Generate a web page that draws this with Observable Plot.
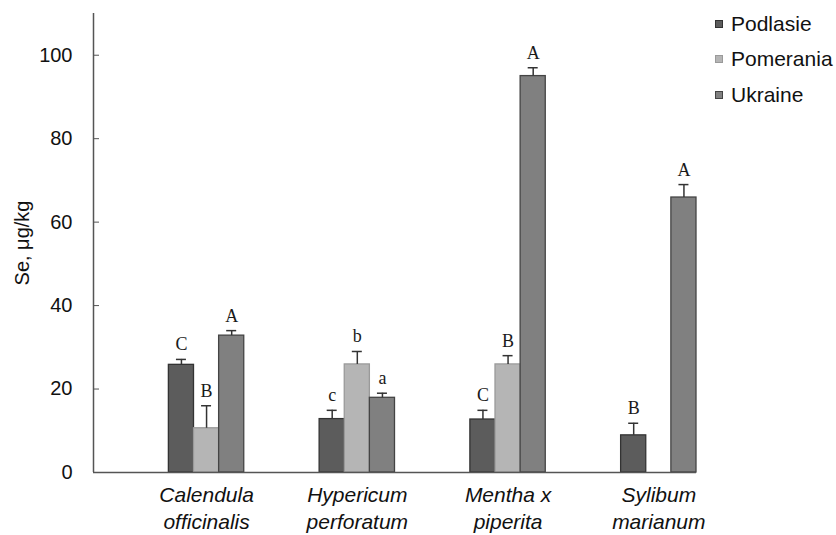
<!DOCTYPE html>
<html>
<head>
<meta charset="utf-8">
<script src="https://cdn.jsdelivr.net/npm/d3@7"></script>
<script src="https://cdn.jsdelivr.net/npm/@observablehq/plot@0.6"></script>
<style>
  html, body { margin: 0; padding: 0; background: #fff; }
  #wrap { position: relative; width: 836px; height: 535px; font-family: "Liberation Sans", Arial, sans-serif; }
  #legend { position: absolute; left: 715px; top: 6px; }
  .row { display: flex; align-items: center; height: 35.5px; font-size: 21px; color: #111; }
  .sw { width: 6px; height: 6px; border: 1px solid #333; margin-right: 8px; }
</style>
</head>
<body>
<div id="wrap"><div id="legend"></div></div>
<script>
const groups = ["Calendula\nofficinalis", "Hypericum\nperforatum", "Mentha x\npiperita", "Sylibum\nmarianum"];
const seriesNames = ["Podlasie", "Pomerania", "Ukraine"];
const seriesColors = ["#5c5c5c", "#b5b5b5", "#808080"];
const seriesStrokes = ["#333333", "#9a9a9a", "#444444"];

const podlasie = [25.8, 12.8, 12.7, 8.9];
const pomerania = [10.6, 25.9, 25.9, null];
const ukraine = [32.8, 17.9, 95, 65.9];

const podlasieErr = [1.3, 2.1, 2.2, 2.9];
const pomeraniaErr = [5.4, 3.1, 2.1, null];
const ukraineErr = [1.2, 1.1, 2, 3.1];

const podlasieLetters = ["C", "c", "C", "B"];
const pomeraniaLetters = ["B", "b", "B", null];
const ukraineLetters = ["A", "a", "A", "A"];

const yTicks = [0, 20, 40, 60, 80, 100];
const yLabel = "Se, μg/kg";

const values = [podlasie, pomerania, ukraine];
const errs = [podlasieErr, pomeraniaErr, ukraineErr];
const letters = [podlasieLetters, pomeraniaLetters, ukraineLetters];

const nS = seriesNames.length;
const slotsPerGroup = nS * 2;
const lead = nS;

const data = [];
groups.forEach((g, gi) => {
  seriesNames.forEach((s, si) => {
    const v = values[si][gi];
    if (v == null) return;
    data.push({
      group: g, series: s,
      slot: gi * slotsPerGroup + lead + si,
      value: v, err: errs[si][gi], letter: letters[si][gi],
      stroke: seriesStrokes[si]
    });
  });
});
const groupCenters = groups.map((g, gi) => gi * slotsPerGroup + lead + nS / 2);

const chart = Plot.plot({
  width: 836,
  height: 535,
  marginTop: 13,
  marginBottom: 63,
  marginLeft: 93,
  marginRight: 140,
  style: { fontFamily: "'Liberation Sans', Arial, sans-serif", fontSize: "20px", background: "#fff", overflow: "visible" },
  x: { type: "linear", domain: [0, groups.length * slotsPerGroup], axis: null },
  y: { domain: [0, 110], axis: null },
  color: { domain: seriesNames, range: seriesColors },
  marks: [
    Plot.rectY(data, { x1: "slot", x2: d => d.slot + 1, y: "value", fill: "series", stroke: d => d.stroke, strokeWidth: 1.3 }),
    Plot.ruleX(data, { x: d => d.slot + 0.5, y1: "value", y2: d => d.value + d.err, stroke: "#333", strokeWidth: 1.5 }),
    Plot.ruleY(data, { y: d => d.value + d.err, x1: d => d.slot + 0.5, x2: d => d.slot + 0.5, insetLeft: -5, insetRight: -5, stroke: "#333", strokeWidth: 1.5 }),
    Plot.text(data.filter(d => d.letter), { x: d => d.slot + 0.5, y: d => d.value + d.err, text: "letter", dy: -9, lineAnchor: "bottom", fontFamily: "'Liberation Serif', 'Times New Roman', serif", fontSize: 18, fill: "#1a1a1a" }),
    Plot.ruleY([0], { stroke: "#555", strokeWidth: 1.5 }),
    Plot.ruleX([0], { stroke: "#555", strokeWidth: 1.5 }),
    Plot.axisY(yTicks, { anchor: "left", tickSize: 6, dx: 6, tickPadding: 21, stroke: "#555", fill: "#111", fontSize: 20, label: null }),
    Plot.text([yLabel], { frameAnchor: "left", textAnchor: "middle", rotate: -90, dx: -71, fontSize: 20, fill: "#111" }),
    Plot.axisX(groupCenters, { anchor: "bottom", tickSize: 0, tickPadding: 10, tickFormat: (d, i) => groups[i], fontStyle: "italic", fontSize: 21, lineHeight: 1.3, fill: "#111", label: null })
  ]
});
document.getElementById("wrap").prepend(chart);

const legend = document.getElementById("legend");
seriesNames.forEach((s, i) => {
  const row = document.createElement("div");
  row.className = "row";
  const sw = document.createElement("span");
  sw.className = "sw";
  sw.style.background = seriesColors[i];
  sw.style.borderColor = seriesStrokes[i];
  const t = document.createElement("span");
  t.textContent = s;
  row.append(sw, t);
  legend.append(row);
});
</script>
</body>
</html>
